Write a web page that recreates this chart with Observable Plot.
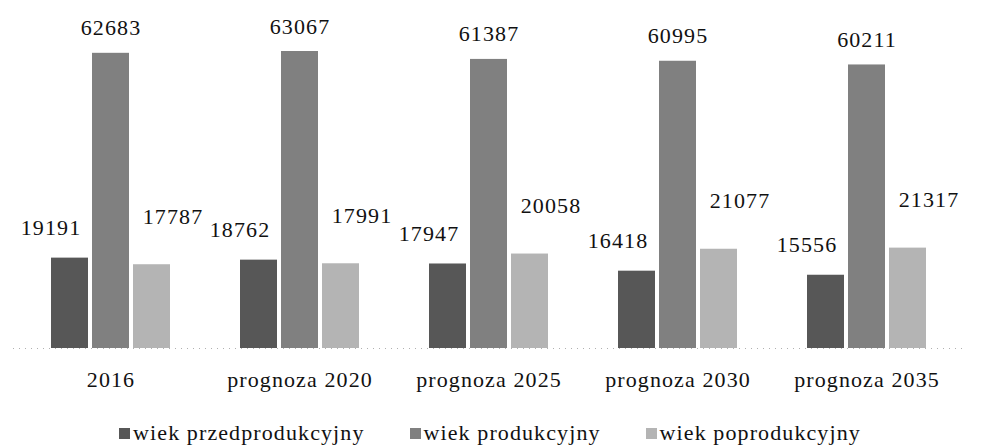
<!DOCTYPE html>
<html>
<head>
<meta charset="utf-8">
<script src="https://cdn.jsdelivr.net/npm/d3@7"></script>
<script src="https://cdn.jsdelivr.net/npm/@observablehq/plot@0.6"></script>
<style>
  html, body { margin: 0; padding: 0; background: #fff; }
  body { width: 999px; height: 445px; overflow: hidden; font-family: "Liberation Serif", serif; }
  #legend {
    box-sizing: border-box; width: 999px; padding-top: 20px; padding-right: 19px;
    display: flex; justify-content: center; align-items: center; gap: 45px;
    font-size: 22px; letter-spacing: 1.1px; color: #111; line-height: 26px;
  }
  #legend .item { display: flex; align-items: center; }
  #legend .sw { display: inline-block; width: 11px; height: 11px; margin-right: 3px; }
</style>
</head>
<body>
<div id="chart"></div>
<div id="legend"></div>
<script>
const categories = ["2016", "prognoza 2020", "prognoza 2025", "prognoza 2030", "prognoza 2035"];
const seriesNames = ["wiek przedprodukcyjny", "wiek produkcyjny", "wiek poprodukcyjny"];
const przedprodukcyjny = [19191, 18762, 17947, 16418, 15556];
const produkcyjny = [62683, 63067, 61387, 60995, 60211];
const poprodukcyjny = [17787, 17991, 20058, 21077, 21317];

const colors = ["#575757", "#808080", "#b4b4b4"];
const seriesValues = [przedprodukcyjny, produkcyjny, poprodukcyjny];
const barDx = [-41, 0, 41];
const labelDx = [-19, 0, 21];
const labelDy = [-30, -25, -48];

const marks = [Plot.ruleY([0], {stroke: "#b0b0b0", strokeDasharray: "1,5"})];
seriesValues.forEach((vals, i) => {
  const data = categories.map((c, j) => ({category: c, value: vals[j]}));
  marks.push(Plot.barY(data, {x: "category", y: "value", fill: colors[i], dx: barDx[i]}));
  marks.push(Plot.text(data, {
    x: "category", y: "value", text: d => String(d.value),
    dx: barDx[i] + labelDx[i], dy: labelDy[i], fontSize: 22, fill: "#111"
  }));
});
marks.push(Plot.axisX({tickSize: 0, tickPadding: 23, fontSize: 22, label: null, fill: "#111"}));

const chart = Plot.plot({
  width: 999, height: 400,
  marginTop: 51, marginBottom: 52, marginLeft: 13, marginRight: 36,
  style: {fontFamily: "Liberation Serif", fontSize: "22px", letterSpacing: "1.1px", color: "#111", background: "#fff"},
  x: {domain: categories, paddingInner: 0.805, paddingOuter: 0.4026, axis: null},
  y: {domain: [0, d3.max(produkcyjny)], axis: null},
  marks
});
document.getElementById("chart").appendChild(chart);

const legend = document.getElementById("legend");
seriesNames.forEach((name, i) => {
  const item = document.createElement("div");
  item.className = "item";
  const sw = document.createElement("span");
  sw.className = "sw";
  sw.style.background = colors[i];
  const t = document.createElement("span");
  t.textContent = name;
  item.appendChild(sw);
  item.appendChild(t);
  legend.appendChild(item);
});
</script>
</body>
</html>
